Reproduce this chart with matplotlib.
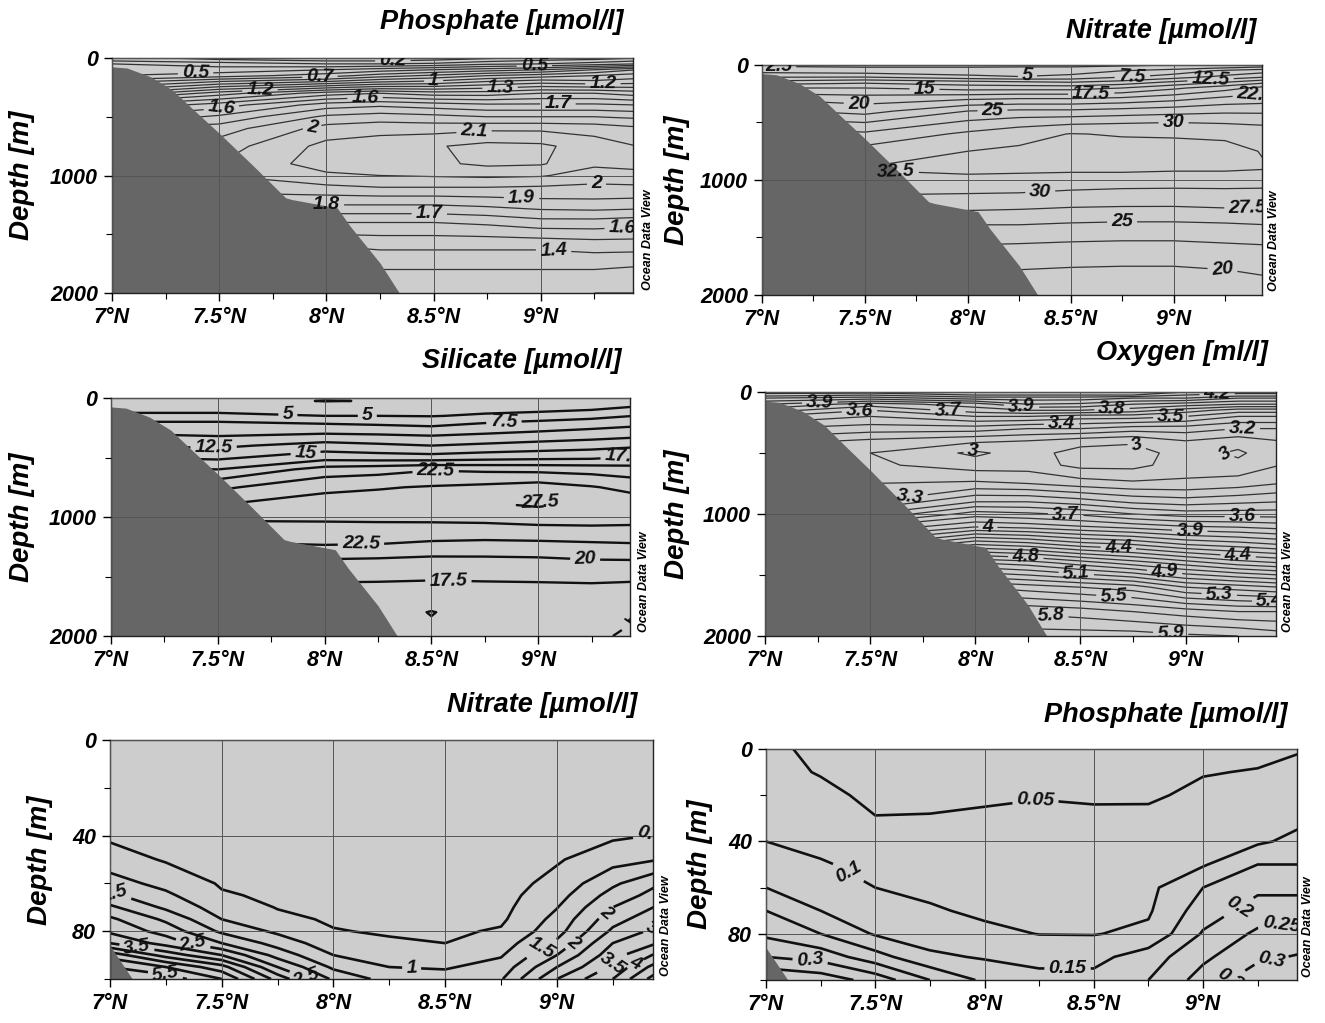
import numpy as np
import matplotlib
matplotlib.use("Agg")
import matplotlib.pyplot as plt
from matplotlib.ticker import FuncFormatter

plt.rcParams['font.family'] = ['Liberation Sans', 'DejaVu Sans']
plt.rcParams['font.weight'] = 'bold'
plt.rcParams['font.style'] = 'italic'

# --- section stations (deg N) and depths (m) ---
lat_deep = [7.0, 7.5, 8.0, 8.25, 8.5, 8.75, 9.0, 9.25, 9.45]
depth_deep = [0, 25, 50, 100, 150, 200, 300, 400, 500, 600, 750, 900,
              1000, 1100, 1250, 1400, 1600, 1800, 2000]

# rows = depth_deep, columns = lat_deep
phosphate_deep = [
    [0.25, 0.15, 0.12, 0.12, 0.15, 0.18, 0.22, 0.25, 0.30],
    [0.30, 0.25, 0.20, 0.20, 0.22, 0.28, 0.32, 0.35, 0.40],
    [0.40, 0.35, 0.30, 0.30, 0.32, 0.38, 0.40, 0.45, 0.50],
    [0.45, 0.45, 0.50, 0.55, 0.60, 0.65, 0.70, 0.80, 0.90],
    [0.50, 0.55, 0.65, 0.75, 0.82, 0.90, 0.95, 1.00, 1.05],
    [0.65, 0.80, 0.90, 0.98, 1.02, 1.10, 1.15, 1.12, 1.15],
    [1.00, 1.25, 1.45, 1.50, 1.45, 1.45, 1.50, 1.50, 1.45],
    [1.40, 1.55, 1.75, 1.78, 1.75, 1.72, 1.72, 1.72, 1.70],
    [1.60, 1.72, 1.92, 1.95, 1.93, 1.90, 1.90, 1.90, 1.88],
    [1.80, 1.85, 2.04, 2.06, 2.06, 2.08, 2.08, 2.06, 2.02],
    [1.90, 1.95, 2.13, 2.16, 2.19, 2.23, 2.22, 2.15, 2.10],
    [2.00, 2.00, 2.15, 2.16, 2.18, 2.22, 2.21, 2.12, 2.12],
    [2.00, 2.00, 2.08, 2.10, 2.11, 2.12, 2.11, 2.05, 2.08],
    [1.95, 1.95, 1.98, 2.00, 2.00, 2.00, 1.99, 1.98, 1.98],
    [1.80, 1.80, 1.80, 1.80, 1.80, 1.82, 1.85, 1.86, 1.85],
    [1.60, 1.60, 1.60, 1.60, 1.60, 1.62, 1.66, 1.66, 1.64],
    [1.40, 1.40, 1.40, 1.42, 1.42, 1.42, 1.42, 1.44, 1.44],
    [1.30, 1.30, 1.30, 1.30, 1.30, 1.30, 1.30, 1.30, 1.28],
    [1.22, 1.22, 1.22, 1.22, 1.22, 1.22, 1.22, 1.20, 1.20],
]

nitrate_deep = [
    [2.0, 1.5, 1.5, 1.5, 1.5, 2.0, 2.5, 3.0, 3.0],
    [3.0, 2.8, 2.8, 3.0, 3.0, 3.5, 4.0, 5.0, 6.0],
    [4.0, 3.5, 3.5, 3.8, 4.0, 5.0, 6.0, 8.0, 9.0],
    [7.0, 7.0, 5.5, 5.0, 5.5, 7.0, 8.5, 10.5, 12.0],
    [11.0, 12.0, 11.0, 10.5, 10.0, 11.0, 13.0, 15.0, 17.0],
    [15.0, 15.0, 14.0, 14.0, 14.0, 15.0, 17.0, 19.0, 21.0],
    [20.0, 19.0, 20.0, 20.5, 20.5, 21.0, 22.0, 23.5, 24.0],
    [23.0, 21.5, 25.0, 25.5, 25.5, 26.0, 26.5, 27.0, 27.0],
    [26.0, 25.0, 28.0, 29.0, 29.5, 29.8, 30.0, 29.8, 29.5],
    [29.0, 28.0, 30.5, 31.5, 32.6, 32.3, 32.2, 32.0, 31.5],
    [31.0, 31.0, 32.5, 33.0, 33.5, 33.5, 33.5, 33.3, 32.3],
    [32.0, 32.6, 33.0, 33.0, 33.0, 33.0, 32.8, 32.8, 32.6],
    [32.0, 32.0, 32.0, 31.8, 31.5, 31.5, 31.5, 31.5, 31.2],
    [30.5, 30.5, 30.3, 30.2, 29.8, 29.5, 29.4, 29.5, 29.5],
    [28.0, 28.0, 27.8, 27.6, 27.3, 27.2, 27.2, 27.4, 27.5],
    [25.0, 25.0, 24.8, 24.8, 24.5, 24.3, 24.3, 24.5, 24.8],
    [22.0, 22.0, 22.0, 21.8, 21.6, 21.5, 21.5, 21.8, 22.0],
    [20.0, 20.0, 20.0, 19.8, 19.6, 19.5, 19.5, 19.8, 20.3],
    [18.0, 18.0, 18.0, 18.0, 18.0, 18.0, 18.0, 18.2, 18.5],
]

silicate_deep = [
    [3.5, 3.5, 3.0, 3.0, 3.2, 3.5, 3.8, 4.0, 4.2],
    [3.5, 3.5, 2.4, 2.6, 3.3, 3.6, 3.9, 4.1, 4.3],
    [3.8, 3.8, 3.2, 3.3, 3.6, 3.8, 4.0, 4.3, 4.5],
    [4.5, 4.5, 4.2, 4.2, 4.3, 4.5, 4.6, 5.0, 5.6],
    [5.5, 5.5, 5.0, 5.0, 4.9, 5.3, 5.8, 6.5, 7.5],
    [7.5, 7.5, 7.0, 6.7, 6.3, 7.2, 7.8, 8.5, 9.0],
    [10.0, 9.5, 10.0, 9.8, 9.5, 10.0, 10.5, 11.0, 11.5],
    [12.5, 12.0, 13.5, 13.0, 12.5, 13.0, 13.5, 14.0, 14.5],
    [15.0, 14.5, 16.5, 16.2, 16.0, 16.5, 16.8, 17.0, 17.8],
    [18.0, 17.5, 21.0, 21.5, 22.3, 22.0, 21.8, 21.5, 21.0],
    [22.0, 22.0, 24.5, 24.8, 25.2, 25.6, 26.2, 25.2, 24.2],
    [25.0, 25.0, 26.0, 26.3, 26.8, 27.2, 27.7, 27.0, 26.5],
    [25.5, 25.5, 25.5, 25.6, 25.8, 26.0, 26.4, 26.3, 26.0],
    [24.0, 24.0, 24.2, 24.2, 24.0, 24.0, 24.3, 24.5, 24.5],
    [22.0, 22.0, 22.3, 22.2, 21.8, 21.6, 21.6, 21.8, 22.0],
    [19.0, 19.0, 19.0, 18.8, 18.5, 18.7, 18.9, 19.3, 19.3],
    [17.0, 17.0, 17.0, 17.0, 17.0, 17.0, 17.0, 17.0, 16.8],
    [16.0, 16.0, 16.0, 16.0, 14.9, 16.0, 16.0, 15.8, 15.2],
    [15.5, 15.5, 15.5, 15.5, 15.5, 15.5, 15.5, 15.3, 14.7],
]

oxygen_deep = [
    [4.35, 4.35, 4.40, 4.40, 4.40, 4.40, 4.30, 4.25, 4.25],
    [4.25, 4.20, 4.30, 4.30, 4.30, 4.30, 4.20, 4.15, 4.15],
    [4.10, 4.05, 4.15, 4.15, 4.15, 4.10, 4.10, 4.00, 4.00],
    [3.90, 3.75, 3.85, 4.00, 3.98, 3.90, 3.85, 3.80, 3.80],
    [3.75, 3.60, 3.75, 3.80, 3.80, 3.75, 3.65, 3.55, 3.55],
    [3.60, 3.50, 3.60, 3.60, 3.55, 3.55, 3.50, 3.40, 3.40],
    [3.40, 3.35, 3.35, 3.30, 3.30, 3.25, 3.25, 3.20, 3.20],
    [3.25, 3.18, 3.12, 3.10, 3.05, 3.02, 3.10, 3.05, 3.10],
    [3.15, 3.10, 2.98, 3.05, 2.95, 2.95, 3.05, 2.98, 3.08],
    [3.15, 3.12, 3.05, 3.05, 2.97, 2.97, 3.05, 3.03, 3.10],
    [3.20, 3.20, 3.22, 3.20, 3.15, 3.12, 3.12, 3.15, 3.20],
    [3.30, 3.30, 3.50, 3.50, 3.45, 3.38, 3.35, 3.38, 3.40],
    [3.50, 3.50, 3.75, 3.72, 3.68, 3.60, 3.55, 3.55, 3.55],
    [3.80, 3.80, 3.98, 3.95, 3.90, 3.85, 3.80, 3.78, 3.75],
    [4.20, 4.20, 4.50, 4.45, 4.35, 4.30, 4.20, 4.15, 4.10],
    [4.70, 4.70, 5.00, 4.95, 4.85, 4.75, 4.65, 4.55, 4.50],
    [5.30, 5.30, 5.50, 5.45, 5.40, 5.35, 5.20, 5.15, 5.10],
    [5.70, 5.70, 5.80, 5.78, 5.75, 5.70, 5.65, 5.60, 5.60],
    [5.90, 5.90, 5.95, 5.95, 5.95, 5.95, 5.92, 5.90, 5.85],
]

# shelf sections (upper 100 m)
lat_shelf = [7.0, 7.25, 7.5, 7.75, 8.0, 8.25, 8.5, 8.75, 9.0, 9.25, 9.45]
depth_no3_shelf = [0, 20, 40, 50, 60, 65, 70, 75, 80, 85, 90, 95, 100]
nitrate_shelf = [
    [0.2, 0.2, 0.2, 0.2, 0.2, 0.2, 0.2, 0.2, 0.2, 0.2, 0.2],
    [0.2, 0.2, 0.2, 0.2, 0.2, 0.2, 0.2, 0.2, 0.2, 0.2, 0.25],
    [0.4, 0.3, 0.25, 0.2, 0.2, 0.2, 0.2, 0.2, 0.3, 0.42, 0.52],
    [0.75, 0.45, 0.3, 0.25, 0.22, 0.22, 0.2, 0.22, 0.45, 0.8, 0.98],
    [1.2, 0.85, 0.45, 0.35, 0.3, 0.27, 0.25, 0.3, 0.65, 1.4, 1.95],
    [1.6, 1.1, 0.55, 0.42, 0.33, 0.3, 0.28, 0.33, 0.8, 1.7, 2.2],
    [2.1, 1.4, 0.75, 0.48, 0.4, 0.35, 0.32, 0.36, 0.98, 2.0, 2.55],
    [2.6, 1.9, 1.0, 0.6, 0.45, 0.4, 0.36, 0.42, 1.15, 2.3, 2.85],
    [2.9, 2.3, 1.4, 0.9, 0.52, 0.46, 0.42, 0.55, 1.3, 2.6, 3.15],
    [3.5, 2.8, 2.0, 1.3, 0.7, 0.55, 0.5, 0.75, 1.6, 3.0, 3.5],
    [4.8, 3.8, 3.0, 1.8, 1.0, 0.8, 0.7, 0.95, 2.0, 3.3, 4.1],
    [5.5, 5.0, 4.2, 2.5, 1.4, 1.0, 0.95, 1.2, 2.5, 3.6, 4.75],
    [6.0, 5.8, 5.0, 3.3, 1.9, 1.3, 1.2, 1.45, 3.0, 4.0, 5.3],
]

depth_po4_shelf = [0, 10, 20, 30, 40, 50, 60, 70, 80, 90, 100]
phosphate_shelf = [
    [0.055, 0.045, 0.035, 0.030, 0.030, 0.030, 0.030, 0.028, 0.035, 0.040, 0.048],
    [0.060, 0.048, 0.038, 0.032, 0.035, 0.035, 0.035, 0.034, 0.048, 0.052, 0.060],
    [0.070, 0.058, 0.043, 0.042, 0.045, 0.048, 0.046, 0.045, 0.058, 0.065, 0.075],
    [0.085, 0.070, 0.051, 0.052, 0.055, 0.058, 0.056, 0.058, 0.070, 0.080, 0.090],
    [0.100, 0.085, 0.070, 0.060, 0.065, 0.070, 0.068, 0.070, 0.080, 0.092, 0.115],
    [0.120, 0.105, 0.085, 0.075, 0.075, 0.080, 0.078, 0.080, 0.095, 0.150, 0.150],
    [0.150, 0.125, 0.100, 0.090, 0.085, 0.088, 0.086, 0.088, 0.150, 0.190, 0.185],
    [0.200, 0.150, 0.120, 0.105, 0.092, 0.094, 0.093, 0.094, 0.175, 0.220, 0.230],
    [0.240, 0.200, 0.145, 0.125, 0.110, 0.099, 0.098, 0.110, 0.205, 0.260, 0.270],
    [0.300, 0.280, 0.220, 0.160, 0.145, 0.130, 0.135, 0.175, 0.240, 0.290, 0.305],
    [0.400, 0.380, 0.330, 0.250, 0.190, 0.170, 0.165, 0.200, 0.270, 0.330, 0.330],
]

# sea floor along the section
bathy_lat = [7.0, 7.07, 7.18, 7.28, 7.38, 7.5, 7.66, 7.81, 7.84, 7.93,
             8.05, 8.11, 8.25, 8.34]
bathy_depth = [75, 85, 160, 270, 440, 640, 920, 1190, 1205, 1235,
               1275, 1430, 1745, 2000]
shelf_lat = [7.0, 7.1]
shelf_depth = [86, 100]

BG = '#cdcdcd'
LAND = '#666666'


def fmt(v):
    return f'{round(v, 2):g}'


def section(rect, lat, depth, values, levels, ymax, yticks, yminor,
            lw, lcolor, labels, floor_lat, floor_depth):
    ax = fig.add_axes(rect)
    ax.set_facecolor(BG)
    cs = ax.contour(lat, depth, np.array(values), levels=levels,
                    colors=lcolor, linewidths=lw, zorder=2)
    ax.fill_between(floor_lat, floor_depth, ymax, color=LAND, lw=0,
                    zorder=2.2)
    txt = ax.clabel(cs, inline=True, inline_spacing=4, fontsize=14, fmt=fmt,
                    manual=labels)
    for t in cs.labelTexts:
        t.set_color('#111111')
    ax.set_xlim(7.0, 9.43)
    ax.set_ylim(ymax, 0)
    ax.set_xticks([7.0, 7.5, 8.0, 8.5, 9.0])
    ax.set_xticks([7.25, 7.75, 8.25, 8.75, 9.25], minor=True)
    ax.xaxis.set_major_formatter(FuncFormatter(lambda v, p: f'{v:g}°N'))
    ax.set_yticks(yticks)
    ax.set_yticks(yminor, minor=True)
    ax.tick_params(which='major', direction='out', length=6, width=1,
                   labelsize=15.5, pad=4)
    ax.tick_params(which='minor', direction='out', length=4, width=0.8)
    ax.set_axisbelow(False)
    ax.grid(True, which='major', color='#555555', linewidth=0.7)
    for s in ax.spines.values():
        s.set_linewidth(1.0)
        s.set_color('#222222')
    return ax


fig = plt.figure(figsize=(13.25, 10.23), dpi=100)
W, H = 1325.0, 1023.0


def rect(x0, y0, x1, y1):
    return [x0 / W, 1 - y1 / H, (x1 - x0) / W, (y1 - y0) / H]


deep_ticks = [0, 1000, 2000]
deep_minor = [500, 1500]
shelf_ticks = [0, 40, 80]
shelf_minor = [20, 60, 100]

p1 = [(7.39, 145), (7.69, 272), (7.97, 162), (8.31, 30), (8.18, 332),
      (8.5, 187), (8.81, 255), (8.97, 70), (9.08, 374), (9.29, 221),
      (7.51, 425), (7.93, 553), (8.69, 664), (9.26, 1038), (8.91, 1200),
      (8.0, 1251), (8.48, 1362), (9.38, 1455), (9.06, 1626)]
p2 = [(7.08, 15), (7.79, 200), (8.29, 96), (8.8, 104), (9.18, 130),
      (8.6, 243), (7.47, 339), (8.12, 374), (9.4, 260), (9.0, 504),
      (7.65, 913), (8.35, 1026), (9.36, 1191), (8.75, 1357), (9.24, 1730)]
p3 = [(7.83, 25), (8.2, 168), (8.84, 210), (7.48, 445), (7.91, 437),
      (9.4, 487), (8.52, 605), (9.01, 880), (8.17, 1193), (9.22, 1353),
      (8.58, 1496), (9.4, 1740)]
p4 = [(7.26, 77), (7.45, 178), (7.87, 151), (8.22, 118), (8.65, 131),
      (8.41, 268), (8.93, 214), (9.27, 296), (8.77, 430), (7.99, 501),
      (9.19, 501), (7.69, 858), (8.43, 995), (8.06, 1118), (9.02, 1132),
      (9.27, 1008), (8.68, 1290), (9.25, 1337), (8.24, 1364), (8.9, 1474),
      (8.48, 1501), (8.66, 1652), (9.16, 1652), (8.36, 1803), (8.93, 1953),
      (9.4, 1734), (9.15, 10)]
p5 = [(9.42, 40), (7.02, 64), (7.12, 87), (7.37, 86), (7.25, 97),
      (8.35, 95), (7.88, 99), (8.93, 87), (9.08, 86), (9.2, 70),
      (9.41, 76), (9.26, 95), (9.36, 95)]
p6 = [(8.23, 20), (7.38, 53), (8.38, 95), (9.18, 71), (9.36, 78),
      (7.2, 94), (9.09, 98), (9.32, 95)]

section(rect(112, 58, 633, 293), lat_deep, depth_deep, phosphate_deep,
        np.round(np.arange(0.2, 2.25, 0.1), 2), 2000, deep_ticks, deep_minor,
        0.9, '#333333', p1, bathy_lat, bathy_depth)
section(rect(762, 65, 1262, 295), lat_deep, depth_deep, nitrate_deep,
        np.arange(2.5, 33, 2.5), 2000, deep_ticks, deep_minor,
        0.9, '#333333', p2, bathy_lat, bathy_depth)
section(rect(111, 398, 630, 636), lat_deep, depth_deep, silicate_deep,
        np.arange(2.5, 28, 2.5), 2000, deep_ticks, deep_minor,
        1.7, '#111111', p3, bathy_lat, bathy_depth)
section(rect(765, 392, 1276, 636), lat_deep, depth_deep, oxygen_deep,
        np.round(np.arange(3.0, 6.0, 0.1), 2), 2000, deep_ticks, deep_minor,
        0.9, '#333333', p4, bathy_lat, bathy_depth)
section(rect(110, 740, 653, 979), lat_shelf, depth_no3_shelf, nitrate_shelf,
        np.arange(0.5, 6.0, 0.5), 100, shelf_ticks, shelf_minor,
        1.9, '#111111', p5, shelf_lat, shelf_depth)
section(rect(766, 749, 1297, 980), lat_shelf, depth_po4_shelf, phosphate_shelf,
        np.round(np.arange(0.05, 0.4, 0.05), 2), 100, shelf_ticks, shelf_minor,
        1.9, '#111111', p6, shelf_lat, shelf_depth)

# titles
titles = [("Phosphate [µmol/l]", 623, 22), ("Nitrate [µmol/l]", 1256, 31),
          ("Silicate [µmol/l]", 621, 361), ("Oxygen [ml/l]", 1268, 353),
          ("Nitrate [µmol/l]", 637, 705), ("Phosphate [µmol/l]", 1287, 715)]
for t, x, y in titles:
    fig.text(x / W, 1 - y / H, t, ha='right', va='center', fontsize=19.5)

# depth labels
for x, y in [(22, 175), (677, 180), (22, 517), (677, 514), (40, 860), (700, 864)]:
    fig.text(x / W, 1 - y / H, "Depth [m]", rotation=90, ha='center',
             va='center', fontsize=20)

# ODV credit
for x, y in [(648, 290), (1274, 291), (644, 632), (1288, 632), (666, 976), (1308, 977)]:
    fig.text(x / W, 1 - y / H, "Ocean Data View", rotation=90, ha='center',
             va='bottom', fontsize=9)

fig.savefig("out.png", dpi=100)
